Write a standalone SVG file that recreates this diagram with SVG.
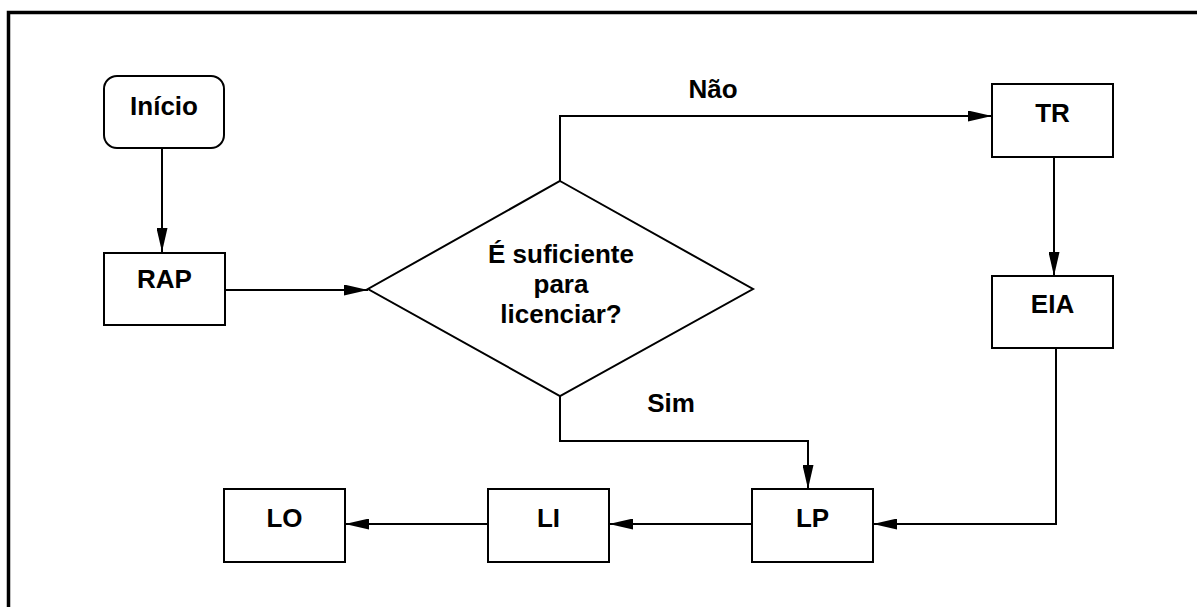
<svg xmlns="http://www.w3.org/2000/svg" width="1197" height="607" viewBox="0 0 1197 607">
<style>
.box{fill:#fff;stroke:#000;stroke-width:2}
.lbl{font-family:"Liberation Sans",Arial,sans-serif;font-weight:bold;font-size:26px;fill:#000;text-anchor:middle}
.con{fill:none;stroke:#000;stroke-width:2}
</style>
<defs>
<marker id="ah" markerUnits="userSpaceOnUse" markerWidth="24" markerHeight="11" refX="24" refY="5.5" orient="auto">
<path d="M0,0 L24,5.5 L0,11 z" fill="#000"/>
</marker>
</defs>
<rect width="1197" height="607" fill="#fff"/>
<path d="M8.5,607 V12.5 H1197" fill="none" stroke="#000" stroke-width="3.5"/>
<g id="connectors">
<path class="con" d="M162,148 V252" marker-end="url(#ah)"/>
<path class="con" d="M225,290 H368" marker-end="url(#ah)"/>
<path class="con" d="M560,181 V116 H992" marker-end="url(#ah)"/>
<path class="con" d="M1054,157 V276" marker-end="url(#ah)"/>
<path class="con" d="M1056,348 V524 H873" marker-end="url(#ah)"/>
<path class="con" d="M560,396 V441 H808 V489" marker-end="url(#ah)"/>
<path class="con" d="M752,524 H609" marker-end="url(#ah)"/>
<path class="con" d="M488,524 H345" marker-end="url(#ah)"/>
<text class="lbl" x="713" y="98">Não</text>
<text class="lbl" x="671" y="412">Sim</text>
</g>
<g id="inicio">
<rect class="box" x="104" y="76" width="120" height="72" rx="13"/>
<text class="lbl" x="164" y="115">Início</text>
</g>
<g id="rap">
<rect class="box" x="104" y="253" width="121" height="72"/>
<text class="lbl" x="164.5" y="288">RAP</text>
</g>
<g id="decisao">
<polygon class="box" points="560,181 753,289 560,396 368,289"/>
<text class="lbl" x="561" y="263">É suficiente</text>
<text class="lbl" x="561" y="293">para</text>
<text class="lbl" x="561" y="323">licenciar?</text>
</g>
<g id="tr">
<rect class="box" x="992" y="84" width="121" height="73"/>
<text class="lbl" x="1052.5" y="122">TR</text>
</g>
<g id="eia">
<rect class="box" x="992" y="276" width="121" height="72"/>
<text class="lbl" x="1052.5" y="313">EIA</text>
</g>
<g id="lp">
<rect class="box" x="752" y="489" width="121" height="73"/>
<text class="lbl" x="812.5" y="527">LP</text>
</g>
<g id="li">
<rect class="box" x="488" y="489" width="121" height="73"/>
<text class="lbl" x="548.5" y="527">LI</text>
</g>
<g id="lo">
<rect class="box" x="224" y="489" width="121" height="73"/>
<text class="lbl" x="284.5" y="527">LO</text>
</g>
</svg>
